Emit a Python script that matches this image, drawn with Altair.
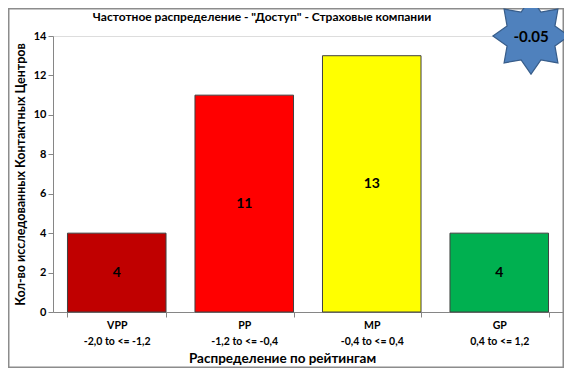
import math
import altair as alt
import pandas as pd

categories = ["VPP", "PP", "MP", "GP"]
ranges = ["-2,0 to <= -1,2", "-1,2 to <= -0,4", "-0,4 to <= 0,4", "0,4 to <= 1,2"]
counts = [4, 11, 13, 4]
colors = ["#C00000", "#FF0000", "#FFFF00", "#00B050"]
y_ticks = [0, 2, 4, 6, 8, 10, 12, 14]
score_label = "-0.05"

title_text = 'Частотное распределение - "Доступ" - Страховые компании'
y_title = "Кол-во исследованных Контактных Центров"
x_title = "Распределение по рейтингам"

FONT = "Lato"

df = pd.DataFrame({
    "cat": [f"{c}|{r}" for c, r in zip(categories, ranges)],
    "count": counts,
    "color": colors,
})

# 8-pointed star path (unit coordinates)
pts = []
for i in range(16):
    ang = -math.pi / 2 + i * math.pi / 8
    r = 1.0 if i % 2 == 0 else 0.68
    pts.append(f"{r * math.cos(ang):.4f},{r * math.sin(ang):.4f}")
star_path = "M" + "L".join(pts) + "Z"

W, H = 510, 276
PL, PT, PR, PB = 45, 28, 1, 56

x_axis = alt.Axis(
    title=x_title,
    labelExpr="split(datum.label, '|')",
    labelAngle=0,
    labelFont=FONT,
    labelFontWeight="bold",
    labelFontSize=10.5,
    labelLineHeight=16,
    labelColor="#000000",
    labelPadding=3,
    tickBand="extent",
    tickSize=5,
    tickColor="#868686",
    domainColor="#868686",
    titleFont=FONT,
    titleFontWeight="bold",
    titleFontSize=13.5,
    titleColor="#000000",
    titleX=229,
    titleY=46,
    titleBaseline="middle",
    grid=False,
)

y_axis = alt.Axis(
    title=y_title,
    values=y_ticks,
    tickCount=8,
    labelOverlap=False,
    labelFont=FONT,
    labelFontWeight="bold",
    labelFontSize=11,
    labelColor="#000000",
    labelPadding=2,
    tickSize=5,
    tickColor="#868686",
    domainColor="#868686",
    titleFont=FONT,
    titleFontWeight="bold",
    titleFontSize=12.5,
    titleColor="#000000",
    titleX=-33,
    titleY=H / 2,
    titleAngle=-90,
    titleBaseline="middle",
    titleAlign="center",
    grid=False,
)

x_scale = alt.Scale(paddingInner=0.227, paddingOuter=0.1135)
y_scale = alt.Scale(domain=[0, 14], nice=False)

bars = alt.Chart(df).mark_bar(stroke="#404040", strokeWidth=1).encode(
    x=alt.X("cat:N", sort=None, scale=x_scale, axis=x_axis),
    y=alt.Y("count:Q", scale=y_scale, axis=y_axis),
    fill=alt.Fill("color:N", scale=None),
)

labels = alt.Chart(df).transform_calculate(
    mid="datum.count / 2"
).mark_text(font=FONT, fontWeight="bold", fontSize=14, color="#000000").encode(
    x=alt.X("cat:N", sort=None, scale=x_scale, axis=x_axis),
    y=alt.Y("mid:Q", scale=y_scale, axis=y_axis),
    text=alt.Text("count:Q"),
)

star_df = pd.DataFrame({"label": [score_label], "title": [title_text]})
star = alt.Chart(star_df).mark_point(
    shape=star_path, size=5800, filled=True, fill="#4F81BD",
    stroke="#385D8A", strokeWidth=1.2, opacity=1,
).encode(x=alt.value(478), y=alt.value(0))
star_text = alt.Chart(star_df).mark_text(
    font=FONT, fontWeight="bold", fontSize=15, color="#000000"
).encode(x=alt.value(478), y=alt.value(1), text="label:N")

title_mark = alt.Chart(star_df).mark_text(
    font=FONT, fontWeight="bold", fontSize=12, color="#000000"
).encode(x=alt.value(209), y=alt.value(-19), text="title:N")

frame = alt.Chart(star_df).mark_rect(
    fillOpacity=0, stroke="#8c8c8c", strokeWidth=1.5
).encode(
    x=alt.value(-PL + 0.75), x2=alt.value(W + PR - 0.75),
    y=alt.value(-PT + 0.75), y2=alt.value(H + PB - 0.75),
)

chart = alt.layer(frame, bars, labels, star, star_text, title_mark).properties(
    width=W,
    height=H,
    padding={"left": PL, "top": PT, "right": PR, "bottom": PB},
    autosize="none",
).configure_view(stroke=None).configure(background="white")

chart.save("out.html", embed_options={"renderer": "svg", "actions": False})
